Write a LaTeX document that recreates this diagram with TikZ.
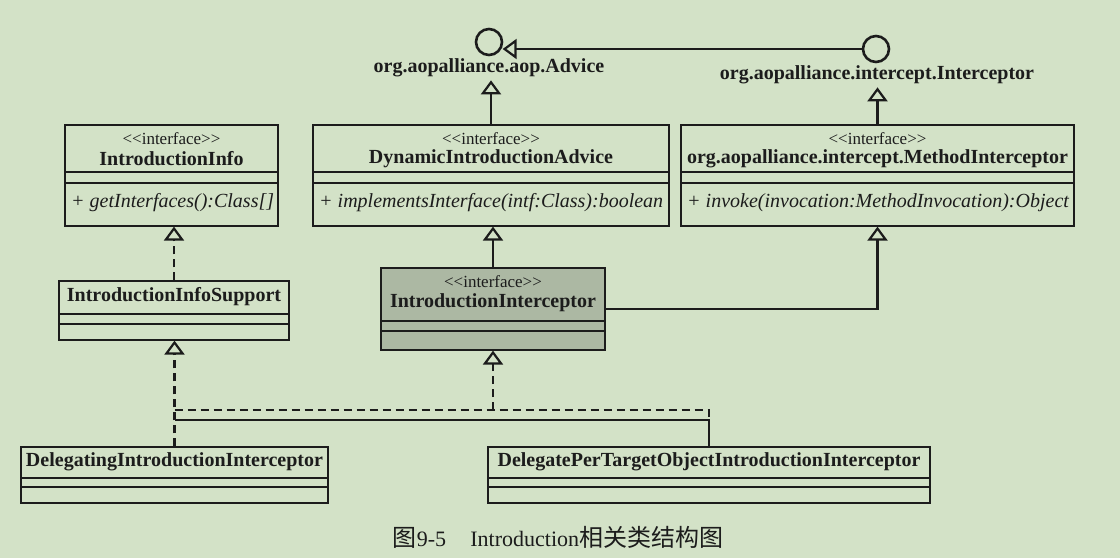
\documentclass[tikz,border=0pt]{standalone}
\usepackage{fontspec}
\setmainfont{Liberation Serif}
\newfontfamily\captioncjk{Noto Sans CJK SC}
\usetikzlibrary{arrows.meta}
\definecolor{introPaper}{RGB}{211,226,199}
\definecolor{introInk}{RGB}{28,28,28}
\definecolor{introShade}{RGB}{172,184,163}

\begin{document}
\begin{tikzpicture}[
                scale=0.5,
                transform shape,
                x=1pt, y=-1pt,
                introClass/.style={rectangle,draw=introInk,line width=1.25pt,inner sep=0pt},
                introShaded/.style={introClass,fill=introShade},
                introRule/.style={draw=introInk,line width=1.1pt},
                introStereo/.style={font=\fontsize{17}{20}\selectfont,inner sep=1pt},
                introName/.style={font=\fontsize{20}{24}\selectfont\bfseries,inner sep=1pt},
                introOp/.style={font=\fontsize{20}{24}\selectfont\itshape,anchor=west,inner sep=0pt},
                introLollipop/.style={circle,draw=introInk,line width=1.3pt,
                                      minimum size=26pt,inner sep=0pt},
                introGeneral/.style={draw=introInk,line width=1.1pt,
                                     -{Triangle[open,length=7pt,width=10pt]}},
                introRealize/.style={introGeneral,dash pattern=on 4pt off 2.5pt},
                introLink/.style={draw=introInk,line width=1.1pt},
                introDashLink/.style={introLink,dash pattern=on 4pt off 2.5pt},
                every node/.style={text=introInk}]
                \fill[introPaper] (0,0) rectangle (1120,558);
                \useasboundingbox (0,0) rectangle (1120,558);

                % aopalliance lollipops: Interceptor extends Advice.
                \node[introLollipop] (adviceCirc) at (489,42) {};
                \node[introName,inner sep=3pt] (adviceLbl) at (489,68) {org.aopalliance.aop.Advice};
                \node[introLollipop] (intercCirc) at (876,49) {};
                \node[introName,inner sep=3pt] (intercLbl) at (877,75) {org.aopalliance.intercept.Interceptor};
                \draw[introGeneral] (intercCirc.west) -- (intercCirc.west -| adviceCirc.east);


                % Top row: the three interfaces.
                \node[introClass,minimum width=213pt,minimum height=101pt] (info) at (171.5,175.5) {};
                \draw[introRule] (65,172) -- (278,172) (65,183) -- (278,183);
                \node[introStereo] (infoSt) at (171.5,139) {<{}<interface>{}>};
                \node[introName] (infoNm) at (171.5,159) {IntroductionInfo};
                \node[introOp] (infoOp) at (71,203) {+ getInterfaces():Class[]};

                \node[introClass,minimum width=356pt,minimum height=101pt] (dyn) at (491,175.5) {};
                \draw[introRule] (313,172) -- (669,172) (313,183) -- (669,183);
                \node[introStereo] (dynSt) at (491,139) {<{}<interface>{}>};
                \node[introName] (dynNm) at (491,159) {DynamicIntroductionAdvice};
                \node[introOp] (dynOp) at (319,203) {+ implementsInterface(intf:Class):boolean};

                \node[introClass,minimum width=393pt,minimum height=101pt] (mi) at (877.5,175.5) {};
                \draw[introRule] (681,172) -- (1074,172) (681,183) -- (1074,183);
                \node[introStereo] (miSt) at (877.5,139) {<{}<interface>{}>};
                \node[introName] (miNm) at (877.5,159) {org.aopalliance.intercept.MethodInterceptor};
                \node[introOp] (miOp) at (687,203) {+ invoke(invocation:MethodInvocation):Object};

                \draw[introGeneral] (dyn.north) -- (dyn.north |- adviceLbl.south);
                \draw[introGeneral] (mi.north) -- (mi.north |- intercLbl.south);


                % Middle row: support class and the shaded interceptor.
                \node[introClass,minimum width=230pt,minimum height=59pt] (infoSup) at (174,310.5) {};
                \draw[introRule] (59,314) -- (289,314) (59,324) -- (289,324);
                \node[introName] (infoSupNm) at (174,297) {IntroductionInfoSupport};

                \node[introShaded,minimum width=224pt,minimum height=82pt] (intI) at (493,309) {};
                \draw[introRule] (381,321) -- (605,321) (381,331) -- (605,331);
                \node[introStereo] (intISt) at (493,282) {<{}<interface>{}>};
                \node[introName] (intINm) at (493,303) {IntroductionInterceptor};

                \draw[introRealize] (infoSup.north) -- (infoSup.north |- info.south);
                \draw[introGeneral] (intI.north) -- (intI.north |- dyn.south);
                \draw[introGeneral] (intI.east) -| (mi.south);


                % Bottom row: the two concrete interceptors.
                \node[introClass,minimum width=307pt,minimum height=56pt] (deleg) at (174.5,475) {};
                \draw[introRule] (21,478) -- (328,478) (21,487) -- (328,487);
                \node[introName] (delegNm) at (174.5,462) {DelegatingIntroductionInterceptor};

                \node[introClass,minimum width=442pt,minimum height=56pt] (perT) at (709,475) {};
                \draw[introRule] (488,478) -- (930,478) (488,487) -- (930,487);
                \node[introName] (perTNm) at (709,462) {DelegatePerTargetObjectIntroductionInterceptor};

                \coordinate (dashBus) at (493,410);
                \coordinate (solidBus) at (709,420);
                \draw[introRealize] (dashBus) -- (intI.south);
                \draw[introRealize] (deleg.north) -- (deleg.north |- infoSup.south);
                \draw[introDashLink] (deleg.north |- dashBus) -- (perT.north |- dashBus) -- (solidBus);
                \draw[introLink] (perT.north) -- (solidBus) -- (solidBus -| deleg.north);


                % Caption
                \node[font=\fontsize{22}{26}\selectfont] (figCaption) at (558,537)
                    {{\captioncjk\fontsize{24}{26}\selectfont 图}9-5\hspace{1.1em}Introduction{\captioncjk\fontsize{24}{26}\selectfont 相关类结构图}};

            \end{tikzpicture}
\end{document}
